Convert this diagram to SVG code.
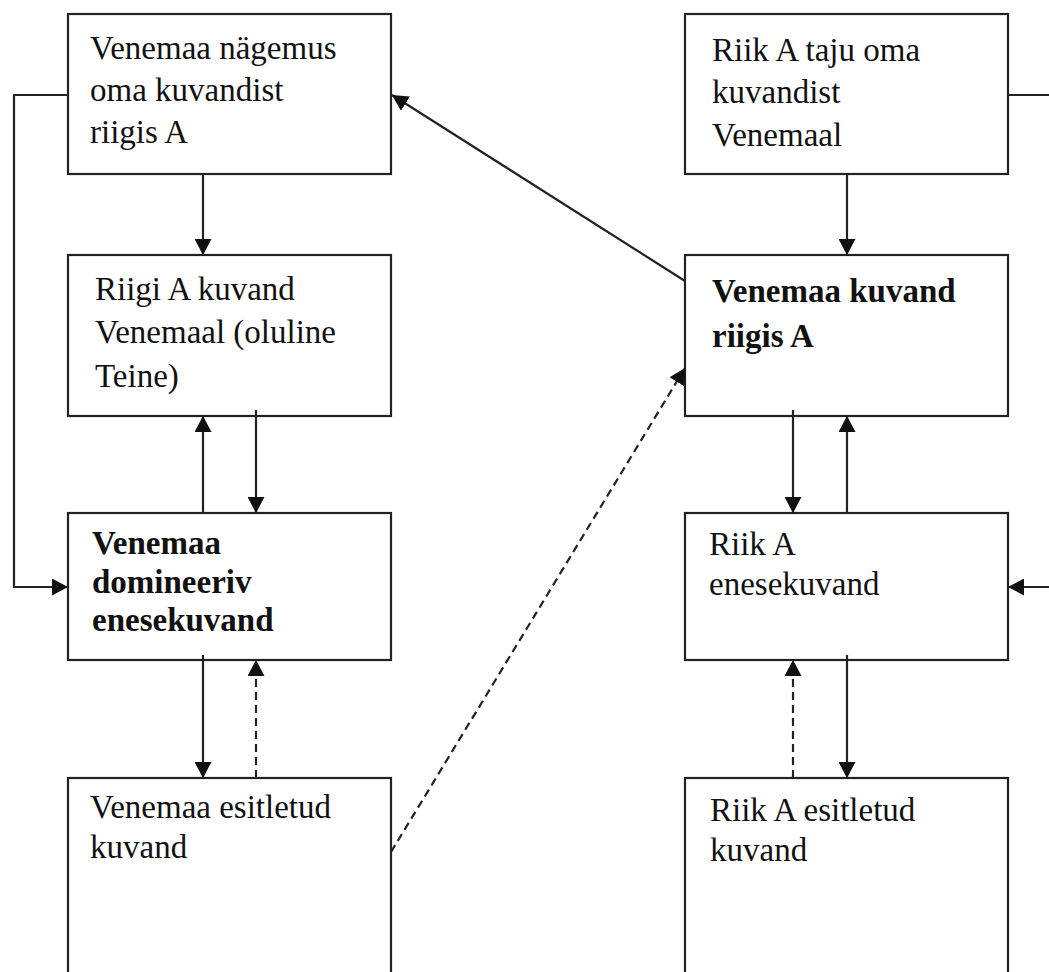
<svg xmlns="http://www.w3.org/2000/svg" width="1049" height="972" viewBox="0 0 1049 972">
<style>
.box{fill:#fff;stroke:#222;stroke-width:2.2}
.t{font-family:"Liberation Serif","Times New Roman",serif;font-size:33px;fill:#111}
.b{font-weight:bold}
.c{fill:none;stroke:#222;stroke-width:2.2}
.d{stroke-dasharray:8,5}
</style>
<defs>
<marker id="ah" viewBox="0 0 16 17" refX="16" refY="8.5" markerWidth="16" markerHeight="17" orient="auto" markerUnits="userSpaceOnUse">
<path d="M0,0 L16,8.5 L0,17 z" fill="#111" stroke="none"/>
</marker>
</defs>
<rect width="1049" height="972" fill="#fff"/>
<g id="n1">
<rect class="box" x="68" y="14" width="323" height="160"/>
<text class="t" x="90" y="59">Venemaa nägemus</text>
<text class="t" x="90" y="101">oma kuvandist</text>
<text class="t" x="90" y="143">riigis A</text>
</g>
<g id="n2">
<rect class="box" x="68" y="255" width="323" height="161"/>
<text class="t" x="95" y="300">Riigi A kuvand</text>
<text class="t" x="95" y="343">Venemaal (oluline</text>
<text class="t" x="95" y="387">Teine)</text>
</g>
<g id="n3">
<rect class="box" x="68" y="513" width="323" height="147"/>
<text class="t b" x="92" y="554">Venemaa</text>
<text class="t b" x="92" y="593">domineeriv</text>
<text class="t b" x="92" y="631">enesekuvand</text>
</g>
<g id="n4">
<rect class="box" x="68" y="778" width="323" height="230"/>
<text class="t" x="90" y="818">Venemaa esitletud</text>
<text class="t" x="90" y="858">kuvand</text>
</g>
<g id="n5">
<rect class="box" x="685" y="14" width="323" height="160"/>
<text class="t" x="712" y="61">Riik A taju oma</text>
<text class="t" x="712" y="103">kuvandist</text>
<text class="t" x="712" y="146">Venemaal</text>
</g>
<g id="n6">
<rect class="box" x="685" y="255" width="323" height="161"/>
<text class="t b" x="712" y="302">Venemaa kuvand</text>
<text class="t b" x="712" y="347">riigis A</text>
</g>
<g id="n7">
<rect class="box" x="685" y="513" width="323" height="147"/>
<text class="t" x="709" y="555">Riik A</text>
<text class="t" x="709" y="595">enesekuvand</text>
</g>
<g id="n8">
<rect class="box" x="685" y="778" width="323" height="230"/>
<text class="t" x="710" y="821">Riik A esitletud</text>
<text class="t" x="710" y="861">kuvand</text>
</g>
<g id="connectors">
<polyline class="c" points="68,95 14,95 14,587 68,587" marker-end="url(#ah)"/>
<line class="c" x1="203" y1="174" x2="203" y2="255" marker-end="url(#ah)"/>
<line class="c" x1="203" y1="513" x2="203" y2="416" marker-end="url(#ah)"/>
<line class="c" x1="256" y1="410" x2="256" y2="513" marker-end="url(#ah)"/>
<line class="c" x1="203" y1="655" x2="203" y2="778" marker-end="url(#ah)"/>
<line class="c d" x1="256" y1="778" x2="256" y2="660" marker-end="url(#ah)"/>
<line class="c" x1="847" y1="174" x2="847" y2="255" marker-end="url(#ah)"/>
<line class="c" x1="793" y1="410" x2="793" y2="513" marker-end="url(#ah)"/>
<line class="c" x1="847" y1="513" x2="847" y2="416" marker-end="url(#ah)"/>
<line class="c d" x1="793" y1="778" x2="793" y2="660" marker-end="url(#ah)"/>
<line class="c" x1="847" y1="655" x2="847" y2="778" marker-end="url(#ah)"/>
<line class="c" x1="1008" y1="95" x2="1049" y2="95"/>
<line class="c" x1="1049" y1="587" x2="1008" y2="587" marker-end="url(#ah)"/>
<line class="c" x1="685" y1="281" x2="392" y2="95" marker-end="url(#ah)"/>
<line class="c d" x1="391" y1="852" x2="685" y2="368" marker-end="url(#ah)"/>
</g>
</svg>
